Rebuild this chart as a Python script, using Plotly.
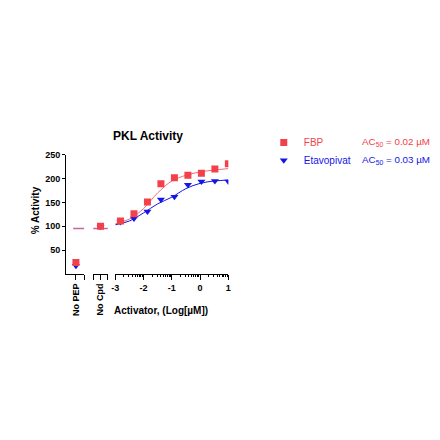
import math
import plotly.graph_objects as go

# ---- data ----
log_conc = [-2.816, -2.339, -1.862, -1.385, -0.908, -0.431, 0.046, 0.523, 1.0]
fbp_vals = [111, 126, 151, 189, 202, 207, 211, 220, 231]
eta_vals = [109, 116, 131, 156, 162, 187, 194, 195, 194]

fit_x = [-3.0, -2.5, -2.0, -1.5, -1.0, -0.5, 0.0, 0.5, 1.0]
fbp_fit = [105, 115, 137, 170, 195, 207, 214, 218, 221]
eta_fit = [103, 111, 128, 147, 161, 179, 190, 195, 197]

no_pep_fbp = [24]
no_pep_eta = [17]
no_cpd_fbp = [100]
no_cpd_eta = [99]
reference_level = 95

major_ticks = [-3, -2, -1, 0, 1]
major_labels = ["-3", "-2", "-1", "0", "1"]
y_ticks = [50, 100, 150, 200, 250]

ac50_fbp = "0.02"
ac50_eta = "0.03"

RED = "#f2414b"
RED_LINE = "#f36a72"
BLUE = "#1515e6"
PURPLE = "#c8649e"
FONT = "Liberation Sans, Arial, sans-serif"

OFF = 10
W = 424
H = 420


def px(v):
    return (v - OFF) / W


def py(v):
    return 1 - (v - OFF) / H


fig = go.Figure()

# curves
fig.add_trace(go.Scatter(x=fit_x, y=eta_fit, mode="lines", line=dict(color=BLUE, width=1, shape="spline"),
                         xaxis="x", yaxis="y", showlegend=False, hoverinfo="skip"))
fig.add_trace(go.Scatter(x=fit_x, y=fbp_fit, mode="lines", line=dict(color=RED_LINE, width=1, shape="spline"),
                         xaxis="x", yaxis="y", showlegend=False, hoverinfo="skip"))

# reference lines in the control segments
fig.add_trace(go.Scatter(x=[-0.15, 0.46], y=[reference_level] * 2, mode="lines",
                         line=dict(color=PURPLE, width=1.5), xaxis="x2", yaxis="y", showlegend=False))
fig.add_trace(go.Scatter(x=[-0.5, 0.5], y=[reference_level] * 2, mode="lines",
                         line=dict(color=PURPLE, width=1.5), xaxis="x3", yaxis="y", showlegend=False))

# Etavopivat markers
eta_marker = dict(symbol="triangle-down", size=7, color=BLUE)
fig.add_trace(go.Scatter(x=log_conc, y=eta_vals, mode="markers", marker=eta_marker,
                         xaxis="x", yaxis="y", name=f"<span style='color:{BLUE}'>Etavopivat</span>",
                         legend="legend2"))
fig.add_trace(go.Scatter(x=[0], y=no_pep_eta, mode="markers", marker=eta_marker,
                         xaxis="x2", yaxis="y", showlegend=False))
fig.add_trace(go.Scatter(x=[0], y=no_cpd_eta, mode="markers", marker=eta_marker,
                         xaxis="x3", yaxis="y", showlegend=False))

# FBP markers
fbp_marker = dict(symbol="square", size=7, color=RED)
fig.add_trace(go.Scatter(x=log_conc, y=fbp_vals, mode="markers", marker=fbp_marker,
                         xaxis="x", yaxis="y", name=f"<span style='color:{RED}'>FBP</span>",
                         legend="legend"))
fig.add_trace(go.Scatter(x=[0], y=no_pep_fbp, mode="markers", marker=fbp_marker,
                         xaxis="x2", yaxis="y", showlegend=False))
fig.add_trace(go.Scatter(x=[0], y=no_cpd_fbp, mode="markers", marker=fbp_marker,
                         xaxis="x3", yaxis="y", showlegend=False))

tickfont = dict(family=FONT, size=9, color="black", weight="bold")
axis_common = dict(showline=True, linecolor="black", linewidth=1, ticks="outside",
                   tickcolor="black", tickwidth=1, showgrid=False, zeroline=False,
                   tickfont=tickfont, fixedrange=True)

minor_vals = [d + math.log10(k) for d in range(-3, 1) for k in range(2, 10)]


def end_ticks(vals):
    return dict(tickmode="array", tickvals=vals, ticks="outside", ticklen=5,
                tickcolor="black", tickwidth=1, showgrid=False)


def legend_at(y_px):
    return dict(x=px(266), y=py(y_px), xanchor="left", yanchor="middle",
                font=dict(family=FONT, size=10, color=BLUE), bgcolor="rgba(0,0,0,0)",
                itemwidth=30, tracegroupgap=0)


fig.update_layout(
    width=W, height=H, autosize=False,
    margin=dict(l=0, r=0, t=0, b=0),
    paper_bgcolor="white", plot_bgcolor="white",
    xaxis=dict(domain=[px(115), px(230)], range=[-3, 1], anchor="y",
               tickmode="array", tickvals=major_ticks, ticktext=major_labels, ticklen=5,
               minor=dict(tickmode="array", tickvals=minor_vals, ticks="outside", ticklen=2.5,
                          tickcolor="black", tickwidth=1, showgrid=False),
               **axis_common),
    xaxis2=dict(domain=[px(65), px(83.5)], range=[-0.54, 0.46], anchor="y",
                tickmode="array", tickvals=[0], ticktext=["No PEP"], tickangle=-90,
                ticklen=5, minor=end_ticks([0.46]), **axis_common),
    xaxis3=dict(domain=[px(92.5), px(107.5)], range=[-0.5, 0.5], anchor="y",
                tickmode="array", tickvals=[0], ticktext=["No Cpd"], tickangle=-90,
                ticklen=5, minor=end_ticks([-0.5, 0.5]), **axis_common),
    yaxis=dict(domain=[py(274), py(153.5)], range=[0, 250], anchor="x2",
               tickmode="array", tickvals=y_ticks, ticklen=3, **axis_common),
    legend=legend_at(141),
    legend2=legend_at(159),
    showlegend=True,
)

ann_font = dict(family=FONT, color="black", weight="bold")
fig.add_annotation(text="PKL Activity", x=px(148), y=py(134), xref="paper", yref="paper",
                   showarrow=False, font=dict(size=12, **ann_font), xanchor="center", yanchor="middle")
fig.add_annotation(text="% Activity", x=px(34), y=py(210), xref="paper", yref="paper", textangle=-90,
                   showarrow=False, font=dict(size=10, **ann_font), xanchor="center", yanchor="middle")
fig.add_annotation(text="Activator, (Log[µM])", x=px(162), y=py(311), xref="paper", yref="paper",
                   showarrow=False, font=dict(size=10, **ann_font), xanchor="center", yanchor="middle")
fig.add_annotation(text=f"AC<sub>50</sub> = {ac50_fbp} µM", x=px(364), y=py(141), xref="paper", yref="paper",
                   showarrow=False, font=dict(family=FONT, size=9.8, color=RED), xanchor="left", yanchor="middle")
fig.add_annotation(text=f"AC<sub>50</sub> = {ac50_eta} µM", x=px(364), y=py(159), xref="paper", yref="paper",
                   showarrow=False, font=dict(family=FONT, size=9.8, color=BLUE), xanchor="left", yanchor="middle")

fig.write_html("out.html")
